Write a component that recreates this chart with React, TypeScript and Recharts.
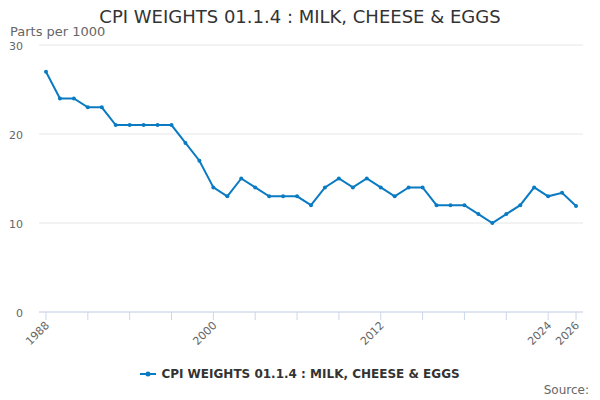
import { LineChart, Line, XAxis, YAxis, CartesianGrid } from 'recharts';

const years = [
  1988, 1989, 1990, 1991, 1992, 1993, 1994, 1995, 1996, 1997,
  1998, 1999, 2000, 2001, 2002, 2003, 2004, 2005, 2006, 2007,
  2008, 2009, 2010, 2011, 2012, 2013, 2014, 2015, 2016, 2017,
  2018, 2019, 2020, 2021, 2022, 2023, 2024, 2025, 2026,
];

const weights = [
  27, 24, 24, 23, 23, 21, 21, 21, 21, 21,
  19, 17, 14, 13, 15, 14, 13, 13, 13, 12,
  14, 15, 14, 15, 14, 13, 14, 14, 12, 12,
  12, 11, 10, 11, 12, 14, 13, 13.4, 11.9,
];

const tickYears = [1988, 1991, 1994, 1997, 2000, 2003, 2006, 2009, 2012, 2015, 2018, 2021, 2024, 2026];
const labelYears = [1988, 2000, 2012, 2024, 2026];
const yTicks = [0, 10, 20, 30];

const seriesName = 'CPI WEIGHTS 01.1.4 : MILK, CHEESE & EGGS';
const lineColor = '#0a7bc2';
const font = '"DejaVu Sans", sans-serif';

const chartData = years.map((year, i) => ({ year, value: weights[i] }));

const XTick = ({ x, y, payload }: any) => {
  if (!labelYears.includes(payload.value)) return null;
  const tx = x + 4;
  const ty = y + 4;
  return (
    <text
      x={tx}
      y={ty}
      transform={`rotate(-45, ${tx}, ${ty})`}
      textAnchor="end"
      fill="#666666"
      fontSize={11}
      fontFamily={font}
    >
      {payload.value}
    </text>
  );
};

const YTick = ({ x, y, payload }: any) => (
  <text x={x} y={y + 5} textAnchor="end" fill="#666666" fontSize={11} fontFamily={font}>
    {payload.value}
  </text>
);

export default function App() {
  return (
    <div style={{ position: 'absolute', left: 0, top: 0, width: 600, height: 400, background: '#fff', fontFamily: font }}>
      <div style={{ position: 'absolute', top: 6, left: 0, width: 600, textAlign: 'center', fontSize: 18, color: '#333333' }}>
        {seriesName}
      </div>
      <div style={{ position: 'absolute', top: 24, left: 10, fontSize: 13, color: '#666666' }}>Parts per 1000</div>

      <LineChart width={600} height={400} data={chartData} margin={{ top: 45, right: 17, bottom: 48, left: 8 }}>
        <CartesianGrid vertical={false} stroke="#e6e6e6" />
        <XAxis
          type="number"
          dataKey="year"
          domain={[1987.5, 2026.5]}
          ticks={tickYears}
          interval={0}
          tickSize={8}
          tickMargin={2}
          tickLine={{ stroke: '#ccd6eb' }}
          axisLine={{ stroke: '#ccd6eb' }}
          tick={<XTick />}
          height={40}
        />
        <YAxis
          domain={[0, 30]}
          ticks={yTicks}
          width={31}
          tickSize={0}
          tickMargin={16}
          axisLine={false}
          tickLine={false}
          tick={<YTick />}
        />
        <Line
          type="linear"
          dataKey="value"
          stroke={lineColor}
          strokeWidth={2}
          dot={{ r: 2, fill: lineColor, stroke: lineColor, strokeWidth: 0 }}
          activeDot={false}
          isAnimationActive={false}
        />
      </LineChart>

      <div style={{ position: 'absolute', top: 367, left: 0, width: 600, display: 'flex', justifyContent: 'center', alignItems: 'center' }}>
        <svg width={16} height={10} style={{ marginRight: 5 }}>
          <line x1={0} y1={5} x2={16} y2={5} stroke={lineColor} strokeWidth={2} />
          <circle cx={8} cy={5} r={2.5} fill={lineColor} />
        </svg>
        <span style={{ fontSize: 12, fontWeight: 'bold', color: '#333333' }}>{seriesName}</span>
      </div>
      <div style={{ position: 'absolute', top: 383, right: 11, fontSize: 12, color: '#666666' }}>Source:</div>
    </div>
  );
}
